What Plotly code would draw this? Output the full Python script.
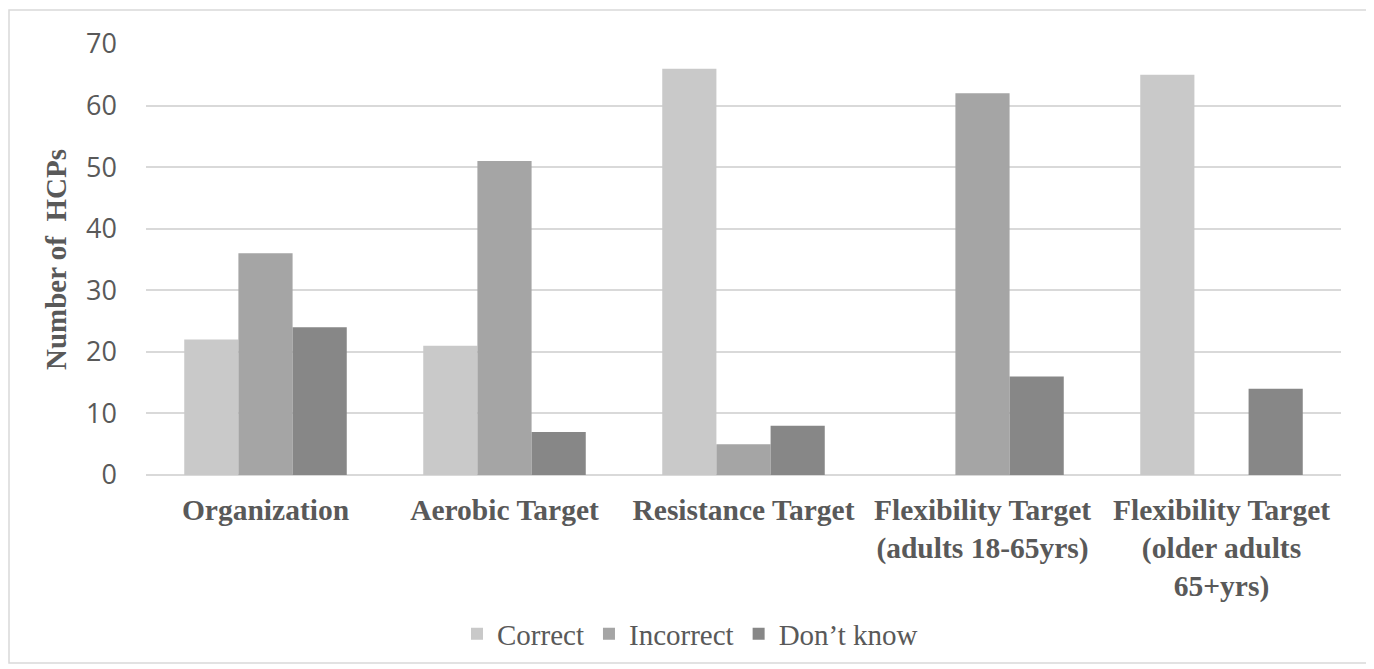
import plotly.graph_objects as go

categories = [
    "Organization",
    "Aerobic Target",
    "Resistance Target",
    "Flexibility Target<br>(adults 18-65yrs)",
    "Flexibility Target<br>(older adults<br>65+yrs)",
]
correct = [22, 21, 66, 0, 65]
incorrect = [36, 51, 5, 62, 0]
dont_know = [24, 7, 8, 16, 14]

series_names = ["Correct", "Incorrect", "Don\u2019t know"]
series_values = [correct, incorrect, dont_know]
series_colors = ["#c9c9c9", "#a5a5a5", "#878787"]

y_ticks = [0, 10, 20, 30, 40, 50, 60, 70]

fig = go.Figure()
for name, vals, col in zip(series_names, series_values, series_colors):
    fig.add_trace(go.Bar(name=name, x=categories, y=vals, marker=dict(color=col, line=dict(width=0))))

# page has an 8px body margin; work in figure coordinates (= screen - 8)
OFF = 8
W, H = 1374 - OFF, 669 - OFF
L, R, T, B = 146 - OFF, 33, 44 - OFF, 194
pw, ph = W - L - R, H - T - B

def px_x(x):
    return (x - OFF - L) / pw

def px_y(y):
    return (H - B - (y - OFF)) / ph

serif = "Liberation Serif, Times New Roman, serif"

fig.update_layout(
    width=W, height=H,
    margin=dict(l=L, r=R, t=T, b=B, autoexpand=False),
    paper_bgcolor="white", plot_bgcolor="white",
    barmode="group", bargap=0.32, bargroupgap=0,
    font=dict(family=serif, color="#595959"),
    legend=dict(
        orientation="h", xref="container", yref="container",
        x=(690 - OFF) / W, xanchor="center", y=1 - (634 - OFF) / H, yanchor="middle",
        font=dict(family=serif, size=29, color="#595959"),
        itemwidth=30, traceorder="normal",
    ),
    xaxis=dict(
        showgrid=False, showline=False, ticks="", automargin=False,
        tickfont=dict(family=serif, size=29.5, color="#595959", weight="bold"),
        tickangle=0, ticklabelstandoff=14,
    ),
    yaxis=dict(
        range=[0, 70], tickvals=y_ticks, showgrid=True, gridcolor="#d9d9d9", gridwidth=1.5,
        zeroline=True, zerolinecolor="#d9d9d9", zerolinewidth=1.5, showline=False, ticks="",
        automargin=False,
        tickfont=dict(family="Open Sans, sans-serif", size=27, color="#595959"),
        ticklabelstandoff=28,
        title=dict(text="Number of&nbsp; HCPs", standoff=10,
                   font=dict(family=serif, size=29, color="#595959", weight="bold")),
    ),
    shapes=[dict(
        type="rect", xref="paper", yref="paper",
        x0=px_x(9), x1=px_x(1370), y0=px_y(663), y1=px_y(10),
        line=dict(color="#d9d9d9", width=1.5), fillcolor="rgba(0,0,0,0)", layer="below",
    )],
)

fig.write_html("out.html")
